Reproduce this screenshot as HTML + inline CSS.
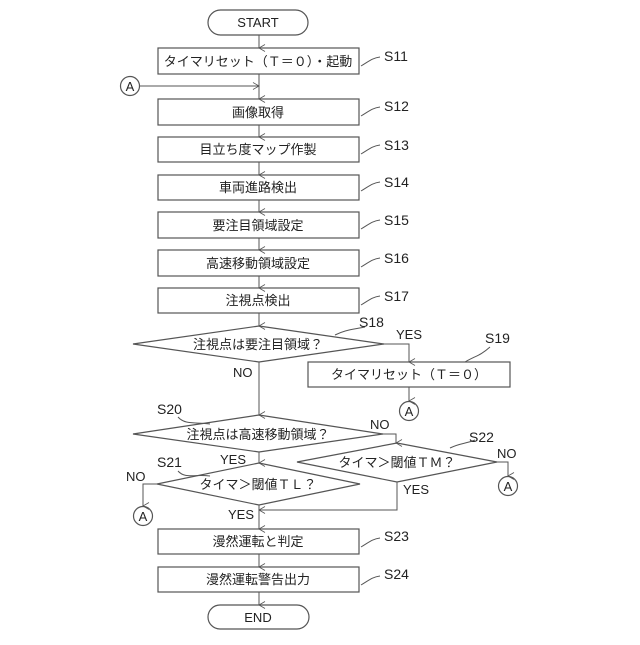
<!DOCTYPE html>
<html><head><meta charset="utf-8"><style>
html,body{margin:0;padding:0;background:#fff;}
text{font-family:"Liberation Sans","Noto Sans CJK JP",sans-serif;font-size:13px;fill:#222;}
.c{text-anchor:middle;}
.l{font-size:14px;}
</style></head><body>
<svg width="640" height="640" viewBox="0 0 640 640" xmlns="http://www.w3.org/2000/svg">
<defs><marker id="a" markerWidth="8" markerHeight="8" refX="4" refY="7" orient="auto" markerUnits="userSpaceOnUse"><path d="M0.5,1 L4,7 L7.5,1" fill="none" stroke="#555" stroke-width="0.8"/></marker>
<marker id="r" markerWidth="8" markerHeight="8" refX="7" refY="4" orient="auto" markerUnits="userSpaceOnUse"><path d="M1,0.5 L7,4 L1,7.5" fill="none" stroke="#555" stroke-width="0.8"/></marker></defs>
<g fill="none" stroke="#555" stroke-width="1.2">
<rect x="208" y="10" width="100" height="25" rx="12.5"/>
<rect x="158" y="48" width="201" height="26"/>
<rect x="158" y="99" width="201" height="26"/>
<rect x="158" y="137" width="201" height="25"/>
<rect x="158" y="175" width="201" height="25"/>
<rect x="158" y="212" width="201" height="26"/>
<rect x="158" y="250" width="201" height="26"/>
<rect x="158" y="288" width="201" height="25"/>
<polygon points="133,344 259,326 384,344 259,362"/>
<rect x="308" y="362" width="202" height="25"/>
<polygon points="133,434 259,415 383,434 259,452"/>
<polygon points="297,462 397,443 497,462 397,482"/>
<polygon points="157,484 259,463 360,484 259,505"/>
<rect x="158" y="529" width="201" height="25"/>
<rect x="158" y="567" width="201" height="25"/>
<rect x="208" y="605" width="101" height="24" rx="12"/>
<circle cx="130" cy="86" r="9.5"/>
<circle cx="409" cy="411" r="9.5"/>
<circle cx="508" cy="486" r="9.5"/>
<circle cx="143" cy="516" r="9.5"/>
</g>
<g fill="none" stroke="#555" stroke-width="1">
<line x1="259" y1="35" x2="259" y2="48" marker-end="url(#a)"/>
<line x1="259" y1="74" x2="259" y2="99" marker-end="url(#a)"/>
<line x1="140" y1="86" x2="259" y2="86" marker-end="url(#r)"/>
<line x1="259" y1="125" x2="259" y2="137" marker-end="url(#a)"/>
<line x1="259" y1="162" x2="259" y2="175" marker-end="url(#a)"/>
<line x1="259" y1="200" x2="259" y2="212" marker-end="url(#a)"/>
<line x1="259" y1="238" x2="259" y2="250" marker-end="url(#a)"/>
<line x1="259" y1="276" x2="259" y2="288" marker-end="url(#a)"/>
<line x1="259" y1="313" x2="259" y2="326" marker-end="url(#a)"/>
<polyline points="384,344 409,344 409,362" marker-end="url(#a)"/>
<line x1="409" y1="387" x2="409" y2="401" marker-end="url(#a)"/>
<line x1="259" y1="362" x2="259" y2="415" marker-end="url(#a)"/>
<polyline points="383,434 396,434 396,443" marker-end="url(#a)"/>
<polyline points="497,462 508,462 508,476" marker-end="url(#a)"/>
<line x1="259" y1="452" x2="259" y2="463" marker-end="url(#a)"/>
<polyline points="157,484 143,484 143,506" marker-end="url(#a)"/>
<polyline points="397,482 397,510 259,510" marker-end="url(#r)"/>
<line x1="259" y1="505" x2="259" y2="529" marker-end="url(#a)"/>
<line x1="259" y1="554" x2="259" y2="567" marker-end="url(#a)"/>
<line x1="259" y1="592" x2="259" y2="605" marker-end="url(#a)"/>
<path d="M361,66 C368,62 372,58 380,57"/>
<path d="M361,116 C368,112 372,108 380,107"/>
<path d="M361,154 C368,150 372,146 380,145"/>
<path d="M361,191 C368,187 372,183 380,182"/>
<path d="M361,229 C368,225 372,221 380,220"/>
<path d="M361,267 C368,263 372,259 380,258"/>
<path d="M361,305 C368,301 372,297 380,296"/>
<path d="M335,335 C345,330 350,330 365,327"/>
<path d="M465,362 C475,356 480,356 490,347"/>
<path d="M178,417 C185,425 195,422 210,424"/>
<path d="M450,448 C460,443 465,444 475,440"/>
<path d="M178,471 C185,479 195,474 210,476"/>
<path d="M361,547 C368,543 372,539 380,538"/>
<path d="M361,585 C368,581 372,577 380,576"/>
</g>
<text class="c" x="258" y="27">START</text>
<text class="c" x="258" y="66">タイマリセット（Ｔ＝０）・起動</text>
<text class="c" x="130" y="91">A</text>
<text class="c" x="258" y="117">画像取得</text>
<text class="c" x="258" y="154">目立ち度マップ作製</text>
<text class="c" x="258" y="192">車両進路検出</text>
<text class="c" x="258" y="230">要注目領域設定</text>
<text class="c" x="258" y="268">高速移動領域設定</text>
<text class="c" x="258" y="305">注視点検出</text>
<text class="c" x="258" y="349">注視点は要注目領域？</text>
<text class="c" x="409" y="379">タイマリセット（Ｔ＝０）</text>
<text class="c" x="409" y="416">A</text>
<text class="c" x="258" y="439">注視点は高速移動領域？</text>
<text class="c" x="397" y="467">タイマ＞閾値ＴＭ？</text>
<text class="c" x="258" y="489">タイマ＞閾値ＴＬ？</text>
<text class="c" x="508" y="491">A</text>
<text class="c" x="143" y="521">A</text>
<text class="c" x="258" y="546">漫然運転と判定</text>
<text class="c" x="258" y="584">漫然運転警告出力</text>
<text class="c" x="258" y="622">END</text>
<text class="l" x="384" y="61">S11</text>
<text class="l" x="384" y="111">S12</text>
<text class="l" x="384" y="150">S13</text>
<text class="l" x="384" y="187">S14</text>
<text class="l" x="384" y="225">S15</text>
<text class="l" x="384" y="263">S16</text>
<text class="l" x="384" y="301">S17</text>
<text class="l" x="359" y="327">S18</text>
<text x="396" y="339">YES</text>
<text class="l" x="485" y="343">S19</text>
<text x="233" y="377">NO</text>
<text class="l" x="157" y="414">S20</text>
<text x="370" y="429">NO</text>
<text class="l" x="469" y="442">S22</text>
<text x="497" y="458">NO</text>
<text x="220" y="464">YES</text>
<text class="l" x="157" y="467">S21</text>
<text x="126" y="481">NO</text>
<text x="403" y="494">YES</text>
<text x="228" y="519">YES</text>
<text class="l" x="384" y="541">S23</text>
<text class="l" x="384" y="579">S24</text>
</svg>
</body></html>
